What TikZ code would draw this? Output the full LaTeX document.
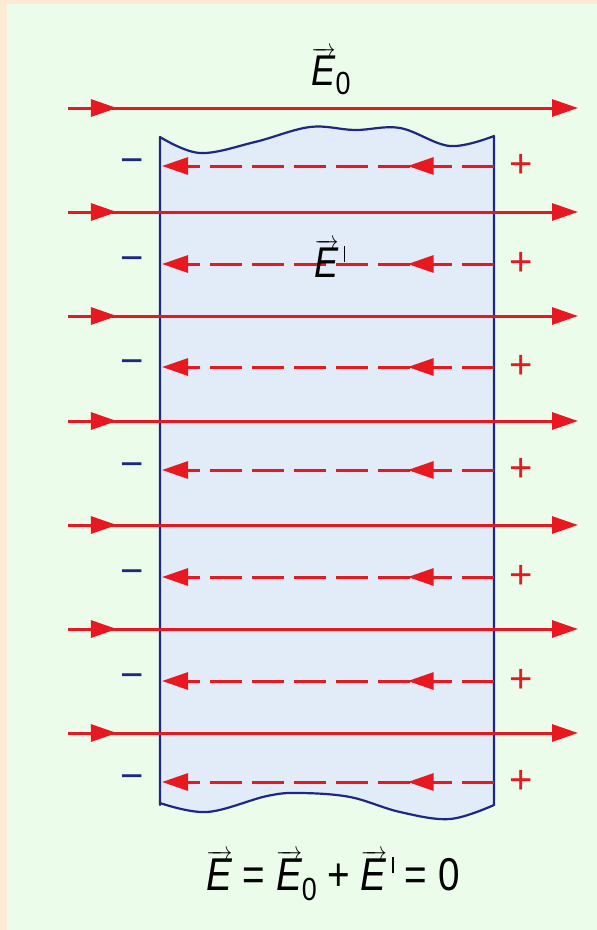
\documentclass[tikz,border=0pt]{standalone}
\usepackage{fontspec}
\setmainfont{Liberation Sans}
\usetikzlibrary{arrows.meta,decorations.markings}
\definecolor{bgbeige}{RGB}{252,234,212}
\definecolor{bggreen}{RGB}{236,252,234}
\definecolor{slabfill}{RGB}{226,236,248}
\definecolor{slabline}{RGB}{30,40,130}
\definecolor{fieldred}{RGB}{232,24,32}
\newcommand\vE{\ensuremath{\overrightarrow{\mbox{\itshape E}}}}
\newcommand\subz{\raisebox{-0.22em}{\fontsize{32}{32}\selectfont 0}}
\newcommand\prm{\hspace{0.14em}\rule[0.36em]{0.05em}{0.36em}}
\tikzset{
  tipshape/.tip={Triangle[length=26pt,width=17pt]},
  solidfield/.style={draw=fieldred, line width=3pt, -tipshape,
    postaction={decorate},
    decoration={markings, mark=at position 0.096 with {\arrow{tipshape}}}},
  dashfield/.style={draw=fieldred, line width=3pt, dash pattern=on 32pt off 10pt, -tipshape,
    postaction={decorate},
    decoration={markings, mark=at position 0.26 with {\arrow{tipshape}}}},
  minuslabel/.style={text=slabline, font=\fontsize{40}{40}\selectfont, inner sep=0pt},
  pluslabel/.style={text=fieldred, font=\fontsize{40}{40}\selectfont, inner sep=0pt},
  elabel/.style={font=\fontsize{43}{46}\selectfont, inner sep=0pt, anchor=base},
}
\begin{document}
\begin{tikzpicture}[x=1pt,y=-1pt]
\useasboundingbox (0,0) rectangle (597,930);
\fill[bgbeige] (0,0) rectangle (597,930);
\fill[bggreen] (7,4) rectangle (597,930);
% slab
\draw[slabline, fill=slabfill, line width=2.2pt, line join=round]
  (160,805) -- (160,137)
  -- plot[smooth, tension=0.6] coordinates {(160,137) (200,153) (255,142) (310,127) (355,130) (400,128) (450,146) (494,136)}
  -- (494,805)
  -- plot[smooth, tension=0.6] coordinates {(494,805) (450,819) (400,812) (350,797) (300,793) (267,796) (207,812) (160,803)}
  -- cycle;
% solid field lines
\foreach \yy [count=\i] in {108,212,316,421,525,629,733}{
  \coordinate (sa\i) at (68,\yy);
  \coordinate (sb\i) at (578,\yy);
  \draw[solidfield] (sa\i) -- (sb\i);
}
% dashed induced field lines and charges
\foreach \yy [count=\i] in {166,264,367,470,577,681,782}{
  \coordinate (da\i) at (494,\yy);
  \coordinate (db\i) at (162,\yy);
  \draw[dashfield] (da\i) -- (db\i);
  \node[minuslabel] (m\i) at (132,\yy) {−};
  \node[pluslabel] (p\i) at (521,\yy) {+};
}
% labels
\node[elabel] (e0) at (331,85) {\scalebox{0.84}[1]{\vE\subz}};
\node[elabel] (ep) at (330,277) {\scalebox{0.84}[1]{\vE\prm}};
\node[elabel, font=\fontsize{46}{50}\selectfont] (eq) at (333,890)
  {\scalebox{0.84}[1]{\vE{} = \vE\subz{} + \vE\prm{} = 0}};
\end{tikzpicture}
\end{document}
